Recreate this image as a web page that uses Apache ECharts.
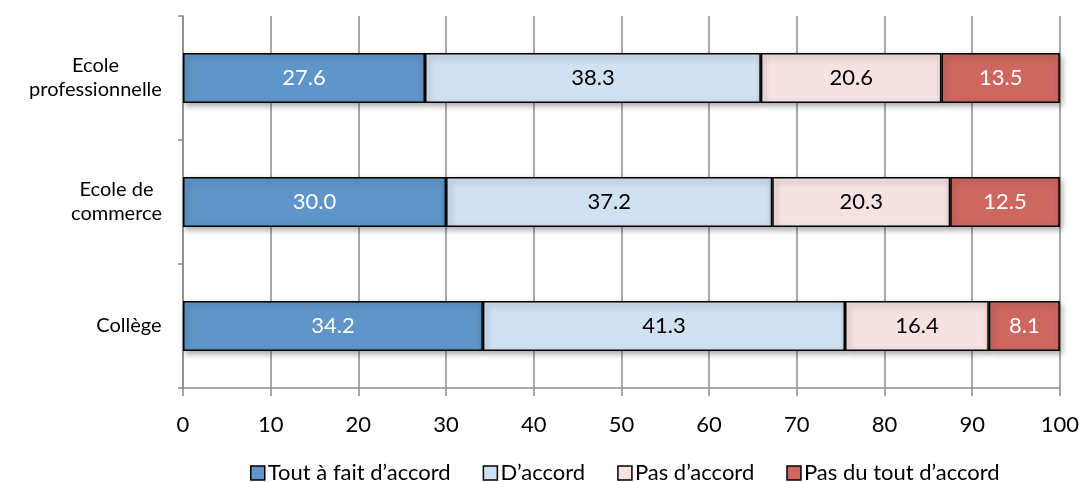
<!DOCTYPE html>
<html><head><meta charset="utf-8">
<script src="https://cdn.jsdelivr.net/npm/echarts@6/dist/echarts.min.js"></script>
<style>html,body{margin:0;padding:0;background:#fff}#c{width:1082px;height:482px}</style>
</head><body><div id="c"></div>
<script>
const categories = ['Collège', 'Ecole de\ncommerce', 'Ecole\nprofessionnelle'];
const seriesNames = ['Tout à fait d’accord', 'D’accord', 'Pas d’accord', 'Pas du tout d’accord'];
const toutAFait = [34.2, 30.0, 27.6];
const dAccord = [41.3, 37.2, 38.3];
const pasDAccord = [16.4, 20.3, 20.6];
const pasDuTout = [8.1, 12.5, 13.5];
const xTicks = [0, 10, 20, 30, 40, 50, 60, 70, 80, 90, 100];

const colors = ['#5f95c8', '#d0e1f2', '#f5e2e1', '#cd6760'];
const labelColors = ['#ffffff', '#000000', '#000000', '#ffffff'];
const values = [toutAFait, dAccord, pasDAccord, pasDuTout];
const FONT = 'Lato, "Open Sans", sans-serif';
const CAT_SIZE = 20;

// measure text to center lines of multi-line category labels within their block
const ctx = document.createElement('canvas').getContext('2d');
ctx.font = CAT_SIZE + 'px Lato';
const rich = {};
function blockLabel(v) {
  const lines = v.split('\n');
  const w = Math.ceil(Math.max(...lines.map(l => ctx.measureText(l).width)));
  rich['w' + w] = { width: w, align: 'center', fontSize: CAT_SIZE, lineHeight: 24, fontFamily: FONT, color: '#000' };
  return lines.map(l => '{w' + w + '|' + l + '}').join('\n');
}
const catLabels = {};
categories.forEach(c => { catLabels[c] = blockLabel(c); });

const chart = echarts.init(document.getElementById('c'));
chart.setOption({
  animation: false,
  textStyle: { fontFamily: FONT },
  grid: { left: 183, right: 22, top: 16, bottom: 94, containLabel: false },
  xAxis: {
    type: 'value', min: xTicks[0], max: xTicks[xTicks.length - 1], interval: 10,
    axisLine: { show: true, lineStyle: { color: '#8c8c8c', width: 1.5 } },
    axisTick: { show: true, length: 8, lineStyle: { color: '#8c8c8c', width: 1.5 } },
    axisLabel: { fontSize: 22, color: '#000', margin: 26, fontFamily: FONT },
    splitLine: { show: true, lineStyle: { color: '#8c8c8c', width: 1.5 } }
  },
  yAxis: {
    type: 'category', data: categories,
    axisLine: { show: true, lineStyle: { color: '#8c8c8c', width: 1.5 } },
    axisTick: { show: true, length: 5, alignWithLabel: false, lineStyle: { color: '#8c8c8c', width: 1.5 } },
    axisLabel: { fontSize: CAT_SIZE, color: '#000', margin: 21, align: 'right', lineHeight: 24, fontFamily: FONT,
      formatter: v => catLabels[v], rich: rich },
    splitLine: { show: false }
  },
  legend: {
    top: 457, left: 245,
    itemWidth: 14, itemHeight: 14, itemGap: 32,
    textStyle: { fontSize: 22, color: '#000', fontFamily: FONT, padding: [0, 0, 0, -2] },
    data: seriesNames.map((n, i) => ({ name: n, icon: 'rect',
      itemStyle: { color: colors[i], borderColor: '#000', borderWidth: 1.5 } }))
  },
  series: seriesNames.map((n, i) => ({
    name: n, type: 'bar', stack: 'total', barWidth: 50,
    data: values[i],
    itemStyle: { color: colors[i], borderColor: '#000', borderWidth: 1.5,
      shadowColor: 'rgba(0,0,0,0.35)', shadowBlur: 6, shadowOffsetX: 2, shadowOffsetY: 3 },
    label: { show: true, position: 'inside', fontSize: 22, color: labelColors[i], fontFamily: FONT,
      formatter: p => p.value.toFixed(1) }
  }))
});
</script></body></html>
